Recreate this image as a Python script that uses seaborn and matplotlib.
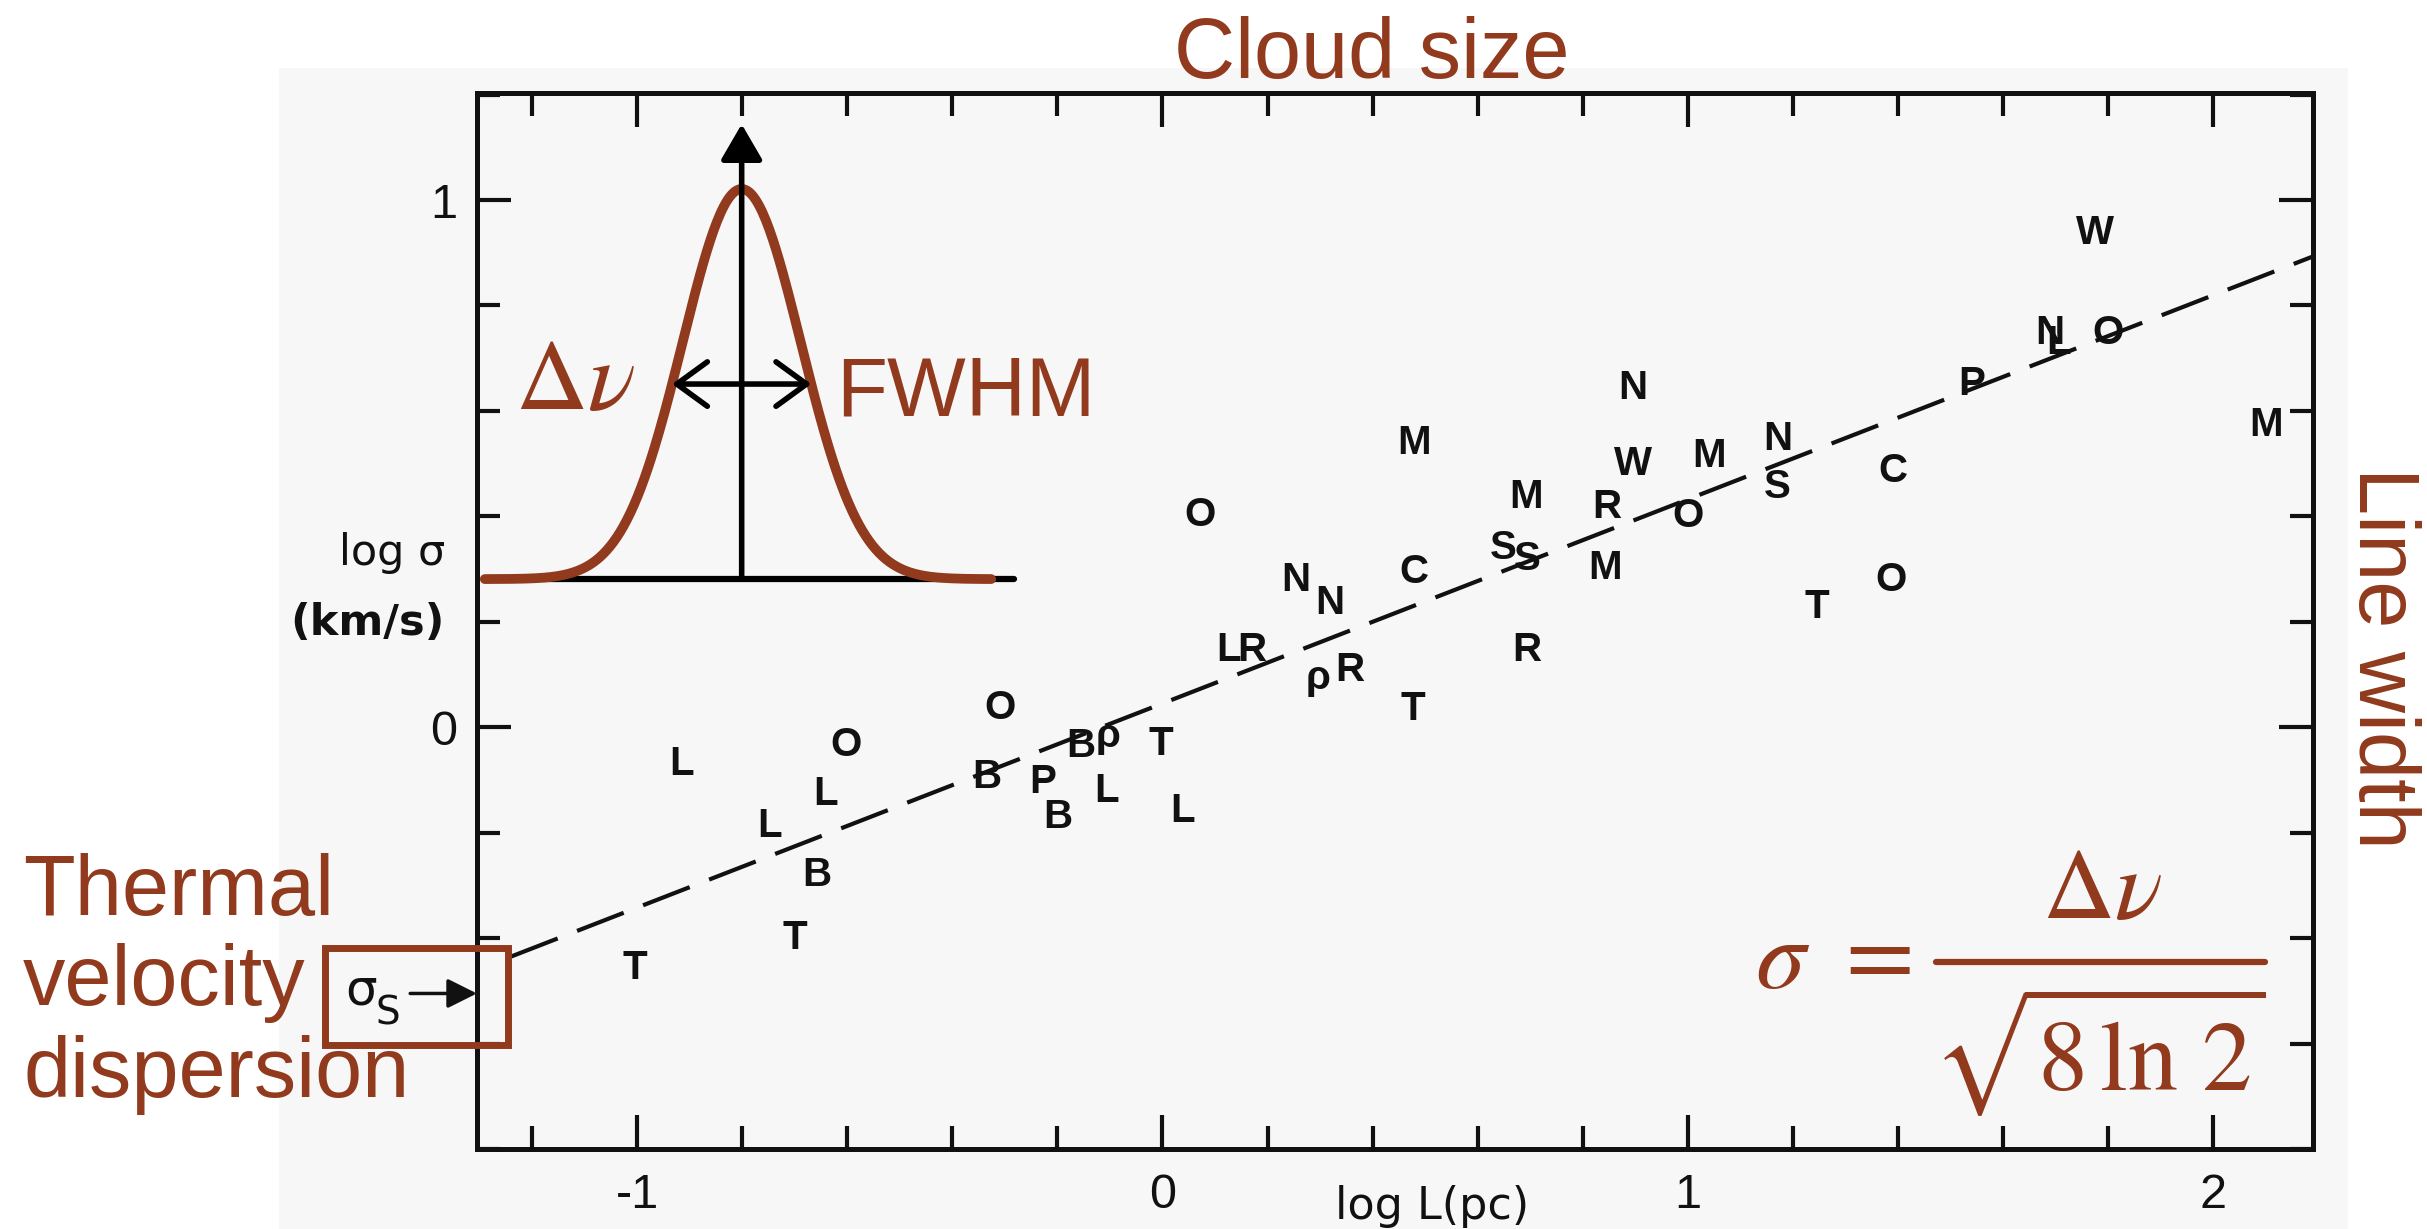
import numpy as np
import matplotlib.pyplot as plt
from matplotlib.patches import Rectangle
import seaborn as sns

# ------------------------------------------------------------------
# Data read off the scanned Larson (1981) size / line-width plot
# ------------------------------------------------------------------
cloud_letters = ["T", "L", "L", "L", "O", "B", "T", "O", "B", "P", "B", "B",
                 "ρ", "L", "T", "L", "O", "L", "R", "N", "N", "ρ", "R", "C",
                 "T", "M", "M", "S", "S", "R", "M", "R", "N", "W", "M", "O",
                 "N", "S", "C", "T", "O", "P", "N", "L", "O", "W", "M"]
log_size = [-1.005, -0.916, -0.748, -0.642, -0.602, -0.658, -0.700, -0.310,
            -0.335, -0.228, -0.199, -0.155, -0.103, -0.107, -0.003, 0.039,
            0.072, 0.125, 0.170, 0.253, 0.318, 0.297, 0.357, 0.478,
            0.476, 0.478, 0.693, 0.648, 0.695, 0.694, 0.842, 0.845,
            0.895, 0.895, 1.040, 1.000, 1.172, 1.170, 1.390, 1.245,
            1.387, 1.540, 1.690, 1.705, 1.800, 1.776, 2.100]
log_sigma = [-0.456, -0.070, -0.188, -0.127, -0.033, -0.281, -0.400, 0.037,
             -0.095, -0.104, -0.171, -0.035, -0.017, -0.121, -0.031, -0.158,
             0.403, 0.147, 0.147, 0.280, 0.235, 0.094, 0.109, 0.294,
             0.035, 0.539, 0.436, 0.340, 0.320, 0.147, 0.303, 0.418,
             0.643, 0.500, 0.514, 0.400, 0.546, 0.455, 0.487, 0.229,
             0.279, 0.652, 0.747, 0.728, 0.747, 0.938, 0.573]

# dashed power-law fit, end points as drawn
fit_log_size = [-1.24, 2.19]
fit_log_sigma = [-0.435, 0.893]

# schematic line profile in the inset (centre, FWHM, base and peak level)
profile_center = -0.801
profile_fwhm = 0.265
profile_base = 0.281
profile_peak = 1.021
profile_span = [-1.29, -0.326]

x_tick_values = [-1, 0, 1, 2]
x_tick_labels = ["-1", "0", "1", "2"]
y_tick_values = [0, 1]
y_tick_labels = ["0", "1"]

BROWN = "#913a1d"
INK = "#111111"

sns.set_style("ticks")
plt.rcParams["font.family"] = ["Liberation Sans", "DejaVu Sans"]
plt.rcParams["mathtext.fontset"] = "stix"

fig = plt.figure(figsize=(24.27, 12.29), dpi=100)
fig.patch.set_facecolor("white")
# light grey of the scanned page
fig.patches.append(Rectangle((0.115, 0.0), 0.8525, 0.9447, transform=fig.transFigure,
                             facecolor="#f7f7f7", edgecolor="none", zorder=-5))

ax = fig.add_axes([0.1965, 0.0651, 0.7565, 0.8592])
ax.set_zorder(2)
ax.set_facecolor("none")

# fit line
sns.lineplot(x=fit_log_size, y=fit_log_sigma, ax=ax, color=INK, linewidth=3,
             linestyle=(0, (12, 5)), zorder=2)

# cloud letters
for letter, lx, ly in zip(cloud_letters, log_size, log_sigma):
    ax.text(lx, ly, letter, ha="center", va="center", fontsize=29,
            fontweight="bold", color=INK, zorder=3)

ax.set_xlim(-1.305, 2.19)
ax.set_ylim(-0.80, 1.203)
ax.set_xticks(x_tick_values)
ax.set_xticklabels(x_tick_labels)
ax.set_yticks(y_tick_values)
ax.set_yticklabels(y_tick_labels)
ax.set_xticks(np.arange(-1.2, 2.01, 0.2), minor=True)
ax.set_yticks(np.arange(-0.8, 1.21, 0.2), minor=True)
ax.tick_params(which="both", direction="in", top=True, right=True, width=3, color=INK,
               labelsize=35, labelcolor=INK)
ax.tick_params(which="major", length=24.5)
ax.tick_params(which="minor", length=16.5)
ax.tick_params(axis="x", pad=17)
ax.tick_params(axis="y", pad=14)
for spine in ax.spines.values():
    spine.set_linewidth(3.6)
    spine.set_color(INK)

ax.set_xlabel("log L(pc)", fontsize=32, color=INK, family="DejaVu Sans")
ax.xaxis.set_label_coords(0.52, -0.034)
ax.text(-1.366, 0.330, "log σ", ha="right", va="center", fontsize=31, color=INK,
        family="DejaVu Sans", clip_on=False)
ax.text(-1.366, 0.197, "(km/s)", ha="right", va="center", fontsize=31, color=INK,
        family="DejaVu Sans", fontweight="bold", clip_on=False)

# ------------------------------------------------------------------
# inset: Gaussian line profile with FWHM
# ------------------------------------------------------------------
gx = np.linspace(profile_span[0], profile_span[1], 300)
gy = profile_base + (profile_peak - profile_base) * np.exp(
    -4 * np.log(2) * (gx - profile_center) ** 2 / profile_fwhm ** 2)
ax.plot([-1.29, -0.282], [profile_base, profile_base], color="black", lw=4.5, zorder=4)
ax.plot(gx, gy, color=BROWN, lw=7, solid_capstyle="round", zorder=5)
ax.annotate("", xy=(profile_center, 1.144), xytext=(profile_center, profile_base),
            arrowprops=dict(arrowstyle="-|>,head_length=0.55,head_width=0.32",
                            lw=4, color="black", shrinkA=0, shrinkB=0,
                            mutation_scale=40), zorder=6)
half = (profile_base + profile_peak) / 2
ax.annotate("", xy=(profile_center + profile_fwhm / 2, half),
            xytext=(profile_center - profile_fwhm / 2, half),
            arrowprops=dict(arrowstyle="<->,head_length=0.55,head_width=0.4",
                            lw=4, color="black", shrinkA=0, shrinkB=0,
                            mutation_scale=40), zorder=6)
ax.text(-1.004, 0.603, r"$\Delta\nu$", ha="right", va="baseline", fontsize=72, color=BROWN)
ax.text(-0.621, 0.592, "FWHM", ha="left", va="baseline", fontsize=60, color=BROWN)

# ------------------------------------------------------------------
# thermal velocity dispersion marker
# ------------------------------------------------------------------
ax.add_patch(Rectangle((-1.594, -0.603), 0.348, 0.184, fill=False, edgecolor=BROWN,
                       lw=5, clip_on=False, zorder=7))
ax.text(-1.525, -0.499, "σ", ha="center", va="center", fontsize=36, color=INK,
        family="DejaVu Sans", clip_on=False)
ax.text(-1.474, -0.543, "S", ha="center", va="center", fontsize=28, color=INK,
        family="DejaVu Sans", clip_on=False)
ax.annotate("", xy=(-1.305, -0.505), xytext=(-1.432, -0.505),
            arrowprops=dict(arrowstyle="-|>,head_length=0.6,head_width=0.3", lw=2.5,
                            color=INK, shrinkA=0, shrinkB=0, mutation_scale=30),
            annotation_clip=False)

# ------------------------------------------------------------------
# sigma = dv / sqrt(8 ln 2)
# ------------------------------------------------------------------
ax.text(1.128, -0.495, r"$\sigma$", ha="left", va="baseline", fontsize=72, color=BROWN)
ax.text(1.349, -0.438, r"$=$", ha="center", va="center", fontsize=72, color=BROWN)
ax.plot([1.472, 2.099], [-0.446, -0.446], color=BROWN, lw=4.5)
ax.text(1.789, -0.361, r"$\Delta\nu$", ha="center", va="baseline", fontsize=72, color=BROWN)
ax.text(1.783, -0.689, r"$\sqrt{8\,\ln\,2}$", ha="center", va="baseline", fontsize=72,
        color=BROWN)

# ------------------------------------------------------------------
# slide annotations
# ------------------------------------------------------------------
fig.text(0.5653, 0.9365, "Cloud size", ha="center", va="baseline", fontsize=61, color=BROWN)
fig.text(0.981, 0.4646, "Line width", ha="center", va="center", rotation=270,
         fontsize=61, color=BROWN)
for label, fy in zip(["Thermal", "velocity", "dispersion"], [0.2555, 0.1823, 0.1074]):
    fig.text(0.0095, fy, label, ha="left", va="baseline", fontsize=61, color=BROWN)

fig.savefig("out.png", dpi=100)
